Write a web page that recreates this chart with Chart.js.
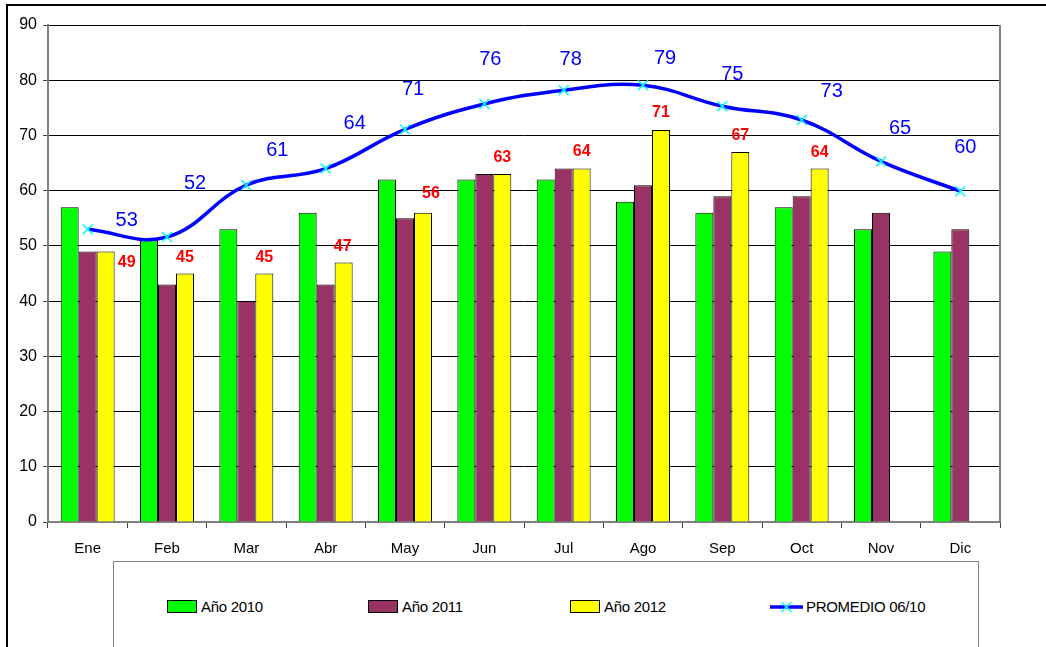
<!DOCTYPE html>
<html>
<head>
<meta charset="utf-8">
<script src="https://cdn.jsdelivr.net/npm/chart.js@4/dist/chart.umd.min.js"></script>
<style>
  body { margin: 0; background: #fff; font-family: "Liberation Sans", Arial, sans-serif; }
  #wrap { position: relative; width: 1046px; height: 647px; overflow: hidden; }
  #frame { position: absolute; left: 6px; top: 4px; width: 1100px; height: 700px; border-top: 2px solid #000; border-left: 2px solid #000; }
  #legend { position: absolute; left: 113px; top: 561px; width: 864px; height: 120px; border: 1px solid #808080; background: #fff; }
  .item { position: absolute; top: 36px; font-size: 15px; letter-spacing: -0.3px; color: #000; display: flex; align-items: center; }
  .swatch { width: 28px; height: 11px; border: 1px solid #000; margin-right: 4px; }
  .lineSw { width: 33px; height: 14px; margin-right: 3px; }
  canvas { position: absolute; left: 0; top: 0; }
</style>
</head>
<body>
<div id="wrap">
  <div id="frame"></div>
  <canvas id="chart" width="1046" height="647"></canvas>
  <div id="legend"></div>
</div>
<script>
const months = ["Ene", "Feb", "Mar", "Abr", "May", "Jun", "Jul", "Ago", "Sep", "Oct", "Nov", "Dic"];
const anio2010 = [57, 51, 53, 56, 62, 62, 62, 58, 56, 57, 53, 49];
const anio2011 = [49, 43, 40, 43, 55, 63, 64, 61, 59, 59, 56, 53];
const anio2012 = [49, 45, 45, 47, 56, 63, 64, 71, 67, 64, null, null];
const promedio = [53, 51.6, 61, 64, 71.1, 75.7, 78.2, 79.1, 75.3, 72.8, 65.3, 59.9];

// label offsets (px) relative to the point / bar top
const promedioOffsets = [[39, -9], [28, -54], [31, -35], [29, -45], [8, -40], [6, -44], [7, -31], [22, -27], [10, -32], [30, -28], [19, -33], [5, -44]];
const anio2012Offsets = [[21, 11], [0, -16], [0, -16], [-1, -16], [8, -19], [0, -17], [0, -17], [0, -17], [0, -16], [0, -16]];

const FONT = "'Liberation Sans', Arial, sans-serif";

// draws the numbers next to the line points and the 2012 bars
const valueLabels = {
  id: "valueLabels",
  afterDatasetsDraw(chart, args, opts) {
    const ctx = chart.ctx;
    ctx.save();
    ctx.textAlign = "center";
    ctx.textBaseline = "middle";
    (opts.sets || []).forEach((s) => {
      const meta = chart.getDatasetMeta(s.index);
      const data = chart.data.datasets[s.index].data;
      ctx.font = s.font;
      ctx.fillStyle = s.color;
      meta.data.forEach((el, j) => {
        if (data[j] == null) return;
        const off = s.offsets[j] || [0, -16];
        ctx.fillText(Math.round(data[j]), el.x + off[0], el.y + off[1]);
      });
    });
    ctx.restore();
  }
};

// right edge of the plot area
const plotEdge = {
  id: "plotEdge",
  beforeDatasetsDraw(chart) {
    const { ctx, chartArea } = chart;
    ctx.save();
    ctx.strokeStyle = "#808080";
    ctx.lineWidth = 2;
    ctx.beginPath();
    ctx.moveTo(Math.round(chartArea.right), chartArea.top);
    ctx.lineTo(Math.round(chartArea.right), chartArea.bottom);
    ctx.stroke();
    ctx.restore();
  }
};

const chart = new Chart(document.getElementById("chart"), {
  type: "bar",
  data: {
    labels: months,
    datasets: [
      {
        type: "line",
        label: "PROMEDIO 06/10",
        data: promedio,
        borderColor: "#0000FF",
        borderWidth: 3.5,
        tension: 0.4,
        pointStyle: "crossRot",
        pointRadius: 7,
        pointBorderColor: "#00FFFF",
        pointBorderWidth: 1.5,
        pointBackgroundColor: "#00FFFF",
        order: 0
      },
      { label: "Año 2010", data: anio2010, backgroundColor: "#00FF00", borderColor: "#000", borderWidth: 1, order: 1 },
      { label: "Año 2011", data: anio2011, backgroundColor: "#993366", borderColor: "#000", borderWidth: 1, order: 1 },
      { label: "Año 2012", data: anio2012, backgroundColor: "#FFFF00", borderColor: "#000", borderWidth: 1, order: 1 }
    ]
  },
  options: {
    responsive: false,
    animation: false,
    categoryPercentage: 0.68,
    barPercentage: 1.0,
    layout: { padding: { top: 25, right: 46, left: 0, bottom: 86 } },
    scales: {
      x: {
        afterFit: (s) => { s.height = 39; },
        grid: { drawOnChartArea: false, drawTicks: true, tickLength: 6, tickColor: "#404040" },
        border: { color: "#808080", width: 2 },
        ticks: { color: "#000", padding: 12, font: { family: FONT, size: 15 } }
      },
      y: {
        min: 0,
        max: 90,
        afterFit: (s) => { s.width = 48; },
        ticks: { stepSize: 10, color: "#000", padding: 6, font: { family: FONT, size: 16 } },
        grid: { color: "#000", lineWidth: 1, tickLength: 5, tickColor: "#404040" },
        border: { color: "#808080", width: 2 }
      }
    },
    plugins: {
      legend: { display: false },
      tooltip: { enabled: false },
      valueLabels: {
        sets: [
          { index: 0, font: "20px " + FONT, color: "#0000FF", offsets: promedioOffsets },
          { index: 3, font: "bold 16px " + FONT, color: "#FF0000", offsets: anio2012Offsets }
        ]
      }
    }
  },
  plugins: [valueLabels, plotEdge]
});

// legend box under the chart, built from the datasets
const legendOrder = [1, 2, 3, 0];
const legendX = [53, 254, 456, 656];
const legendEl = document.getElementById("legend");
legendOrder.forEach((idx, k) => {
  const ds = chart.data.datasets[idx];
  const item = document.createElement("div");
  item.className = "item";
  item.style.left = legendX[k] + "px";
  if (ds.type === "line") {
    item.innerHTML = '<svg class="lineSw" viewBox="0 0 33 14"><line x1="0" y1="7" x2="33" y2="7" stroke="' + ds.borderColor + '" stroke-width="3.5"/>' +
      '<path d="M11.5 2 L21.5 12 M21.5 2 L11.5 12" stroke="' + ds.pointBorderColor + '" stroke-width="1.5"/></svg>';
  } else {
    item.innerHTML = '<div class="swatch" style="background:' + ds.backgroundColor + '"></div>';
  }
  item.appendChild(document.createTextNode(ds.label));
  legendEl.appendChild(item);
});
</script>
</body>
</html>
